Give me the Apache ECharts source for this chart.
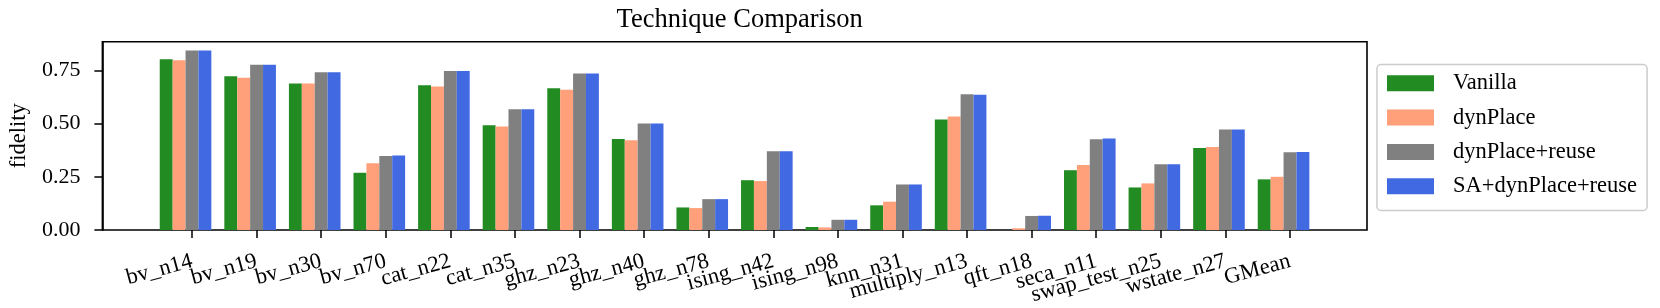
<!DOCTYPE html>
<html>
<head>
<meta charset="utf-8">
<script src="https://cdn.jsdelivr.net/npm/echarts@6/dist/echarts.min.js"></script>
<style>
html,body{margin:0;padding:0;background:#fff;}
#chart{width:1660px;height:308px;}
</style>
</head>
<body>
<div id="chart"></div>
<script>
const categories = ["bv_n14","bv_n19","bv_n30","bv_n70","cat_n22","cat_n35","ghz_n23","ghz_n40","ghz_n78","ising_n42","ising_n98","knn_n31","multiply_n13","qft_n18","seca_n11","swap_test_n25","wstate_n27","GMean"];
const vanilla = [0.802,0.723,0.689,0.269,0.680,0.492,0.666,0.428,0.106,0.234,0.014,0.116,0.519,0.000,0.281,0.200,0.385,0.238];
const dynPlace = [0.798,0.716,0.688,0.314,0.674,0.486,0.659,0.422,0.103,0.230,0.012,0.133,0.534,0.008,0.306,0.219,0.390,0.250];
const dynPlaceReuse = [0.844,0.777,0.741,0.348,0.747,0.567,0.736,0.500,0.145,0.370,0.048,0.214,0.638,0.066,0.427,0.309,0.472,0.366];
const saDynPlaceReuse = [0.844,0.777,0.742,0.350,0.747,0.567,0.736,0.500,0.145,0.370,0.048,0.214,0.636,0.067,0.430,0.309,0.472,0.367];
const seriesNames = ["Vanilla","dynPlace","dynPlace+reuse","SA+dynPlace+reuse"];
const seriesColors = ["#228B22","#FFA07A","#808080","#4169E1"];
const yTicks = [0, 0.25, 0.5, 0.75];
const yMax = 0.885;

const FONT = "Liberation Serif";
const chart = echarts.init(document.getElementById('chart'), null, {renderer:'canvas'});
const allSeries = [vanilla, dynPlace, dynPlaceReuse, saDynPlaceReuse];
const series = allSeries.map((d,i)=>({
  name: seriesNames[i], type:'bar', xAxisIndex:1, yAxisIndex:1,
  data: d, barWidth: 12.9, barGap:'0%',
  itemStyle:{color: seriesColors[i]}, emphasis:{disabled:true}
}));
// placeholder slot so that the grey bar sits on the tick, as in the reference layout
series.push({name:'_pad', type:'bar', xAxisIndex:1, yAxisIndex:1, data: categories.map(()=>null), barWidth:12.9, barGap:'0%', itemStyle:{color:'transparent'}});

chart.setOption({
  animation:false,
  backgroundColor:'#fff',
  textStyle:{fontFamily:FONT},
  title:{text:'Technique Comparison', left:734.7, top:2, textAlign:'center',
    textStyle:{fontFamily:FONT, fontSize:26.5, fontWeight:'normal', color:'#000'}},
  legend:{
    data: seriesNames, orient:'vertical', left:1377, top:64.5,
    itemWidth:47, itemHeight:16, itemGap:11.3,
    padding:[7.3,10,12.7,10], borderColor:'#cccccc', borderWidth:1.5, borderRadius:4,
    backgroundColor:'#fff', icon:'rect',
    textStyle:{fontFamily:FONT, fontSize:22.5, color:'#000', lineHeight:22, padding:[0,0,0,14]}
  },
  grid:[
    {left:102.3, top:41.7, width:1264.7, height:188.3, show:true, borderColor:'#000', borderWidth:1.6, containLabel:false},
    {left:159.7, top:41.7, width:1162.6, height:188.3, containLabel:false}
  ],
  xAxis:[
    {type:'value', gridIndex:0, min:0, max:1, show:false},
    {type:'category', gridIndex:1, data:categories, boundaryGap:true,
      axisLine:{show:false},
      axisTick:{show:true, alignWithLabel:true, length:8, lineStyle:{color:'#000', width:1.5}},
      axisLabel:{rotate:15, margin:31, fontFamily:FONT, fontSize:22.5, color:'#000', interval:0}
    }
  ],
  yAxis:[
    {type:'value', gridIndex:0, min:0, max:yMax, interval:0.25,
      name:'fidelity', nameLocation:'middle', nameGap:71,
      nameTextStyle:{fontFamily:FONT, fontSize:22.5, color:'#000'},
      axisLine:{show:true, lineStyle:{color:'#000', width:1.6}},
      axisTick:{show:true, length:8, lineStyle:{color:'#000', width:1.5}},
      splitLine:{show:false},
      axisLabel:{margin:22, fontFamily:FONT, fontSize:22, color:'#000', showMaxLabel:false,
        formatter:(v)=> yTicks.some(t=>Math.abs(t-v)<1e-9) ? v.toFixed(2) : ''}
    },
    {type:'value', gridIndex:1, min:0, max:yMax, show:false}
  ],
  series: series
});
</script>
</body>
</html>
